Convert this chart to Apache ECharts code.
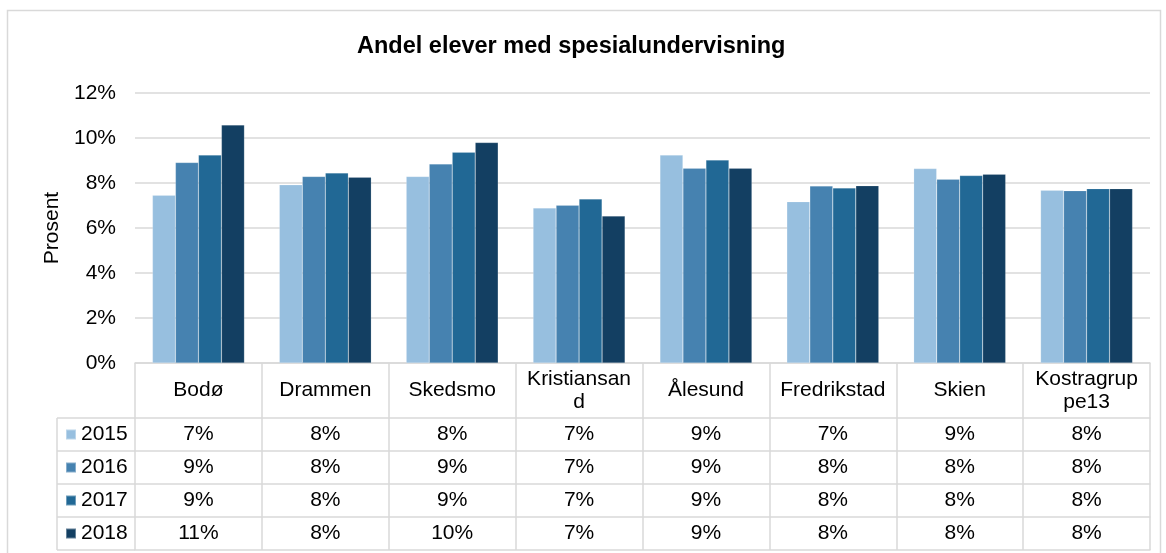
<!DOCTYPE html>
<html>
<head>
<meta charset="utf-8">
<script src="https://cdn.jsdelivr.net/npm/echarts@6/dist/echarts.min.js"></script>
<style>
html,body{margin:0;padding:0;background:#fff;}
#chart{width:1166px;height:553px;}
</style>
</head>
<body>
<div id="chart"></div>
<script>
// ---- data ----
const categories = ['Bodø', 'Drammen', 'Skedsmo', 'Kristiansand', 'Ålesund', 'Fredrikstad', 'Skien', 'Kostragruppe13'];
const years = ['2015', '2016', '2017', '2018'];
const v2015 = [7.46, 7.92, 8.29, 6.89, 9.24, 7.17, 8.64, 7.68];
const v2016 = [8.91, 8.29, 8.85, 7.01, 8.66, 7.87, 8.17, 7.66];
const v2017 = [9.24, 8.45, 9.37, 7.29, 9.02, 7.78, 8.33, 7.75];
const v2018 = [10.58, 8.26, 9.80, 6.53, 8.66, 7.88, 8.39, 7.75];
const yTicks = { min: 0, max: 12, interval: 2 };
const titleText = 'Andel elever med spesialundervisning';
const yName = 'Prosent';

// ---- styling / layout ----
const seriesValues = [v2015, v2016, v2017, v2018];
const colors = ['#97bfdf', '#4682b0', '#216895', '#133f62'];
const FONT = "'Liberation Sans', Arial, sans-serif";
const LINE = '#d9d9d9';
const W = 1166, H = 553;
const GRID_LEFT = 135, GRID_RIGHT = 16, GRID_TOP = 93, GRID_BOTTOM = 190;
const HEADER_H = 55, ROW_H = 33;
const LEG_LEFT = 57;
const axisY = H - GRID_BOTTOM;

const xAxes = [{
  type: 'category', data: categories, position: 'bottom',
  axisLine: { lineStyle: { color: LINE, width: 1.5 } },
  axisTick: { show: true, length: HEADER_H + 4 * ROW_H, lineStyle: { color: LINE, width: 1.5 } },
  axisLabel: {
    interval: 0, margin: HEADER_H / 2, verticalAlign: 'middle', align: 'center',
    fontSize: 21, fontFamily: FONT, color: '#000', width: 110, overflow: 'breakAll', lineHeight: 23.5
  }
}];
seriesValues.forEach((vals, i) => {
  xAxes.push({
    type: 'category', data: categories, position: 'bottom', offset: HEADER_H + ROW_H * i,
    axisLine: { lineStyle: { color: LINE, width: 1.5 } },
    axisTick: { show: false },
    axisLabel: {
      interval: 0, margin: ROW_H / 2, verticalAlign: 'middle', align: 'center',
      fontSize: 21, fontFamily: FONT, color: '#000',
      formatter: (v, idx) => Math.round(vals[idx]) + '%'
    }
  });
});
xAxes.push({
  type: 'category', data: categories, position: 'bottom', offset: HEADER_H + ROW_H * 4,
  axisLine: { lineStyle: { color: LINE, width: 1.5 } },
  axisTick: { show: false }, axisLabel: { show: false }
});

const graphics = [{
  type: 'rect', silent: true,
  shape: { x: 7.5, y: 10.5, width: 1153, height: 600 },
  style: { fill: 'none', stroke: LINE, lineWidth: 1.5 }
}];
for (let k = 0; k <= 4; k++) {
  const y = axisY + HEADER_H + ROW_H * k;
  graphics.push({ type: 'line', silent: true, shape: { x1: LEG_LEFT, y1: y, x2: GRID_LEFT, y2: y }, style: { stroke: LINE, lineWidth: 1.5 } });
}
graphics.push({ type: 'line', silent: true, shape: { x1: LEG_LEFT, y1: axisY + HEADER_H, x2: LEG_LEFT, y2: axisY + HEADER_H + 4 * ROW_H }, style: { stroke: LINE, lineWidth: 1.5 } });

const option = {
  animation: false,
  backgroundColor: '#fff',
  textStyle: { fontFamily: FONT },
  title: {
    text: titleText, left: 357, top: 35, padding: 0,
    textStyle: { fontSize: 23.5, fontWeight: 'bold', color: '#000', fontFamily: FONT }
  },
  legend: {
    data: years, orient: 'vertical', left: 65, top: axisY + HEADER_H + ROW_H / 2 - 10.5,
    itemWidth: 10, itemHeight: 10, itemGap: ROW_H - 21, icon: 'rect', selectedMode: false,
    padding: 0,
    textStyle: { fontSize: 21, lineHeight: 21, color: '#000', fontFamily: FONT }
  },
  grid: { left: GRID_LEFT, right: GRID_RIGHT, top: GRID_TOP, bottom: GRID_BOTTOM, containLabel: false },
  xAxis: xAxes,
  yAxis: {
    type: 'value', min: yTicks.min, max: yTicks.max, interval: yTicks.interval,
    axisLine: { show: false }, axisTick: { show: false },
    axisLabel: { formatter: '{value}%', fontSize: 21, color: '#000', margin: 19, fontFamily: FONT },
    splitLine: { lineStyle: { color: LINE, width: 1.5 } },
    name: yName, nameLocation: 'middle', nameGap: 69,
    nameTextStyle: { fontSize: 21, color: '#000', fontFamily: FONT }
  },
  graphic: graphics,
  series: seriesValues.map((vals, i) => ({
    name: years[i], type: 'bar', data: vals, xAxisIndex: 0, yAxisIndex: 0,
    barGap: '0%', barCategoryGap: '27.5%',
    itemStyle: { color: colors[i], borderColor: 'rgba(255,255,255,0.35)', borderWidth: 0.5 }
  }))
};
const chart = echarts.init(document.getElementById('chart'), null, { renderer: 'canvas' });
chart.setOption(option);
</script>
</body>
</html>
